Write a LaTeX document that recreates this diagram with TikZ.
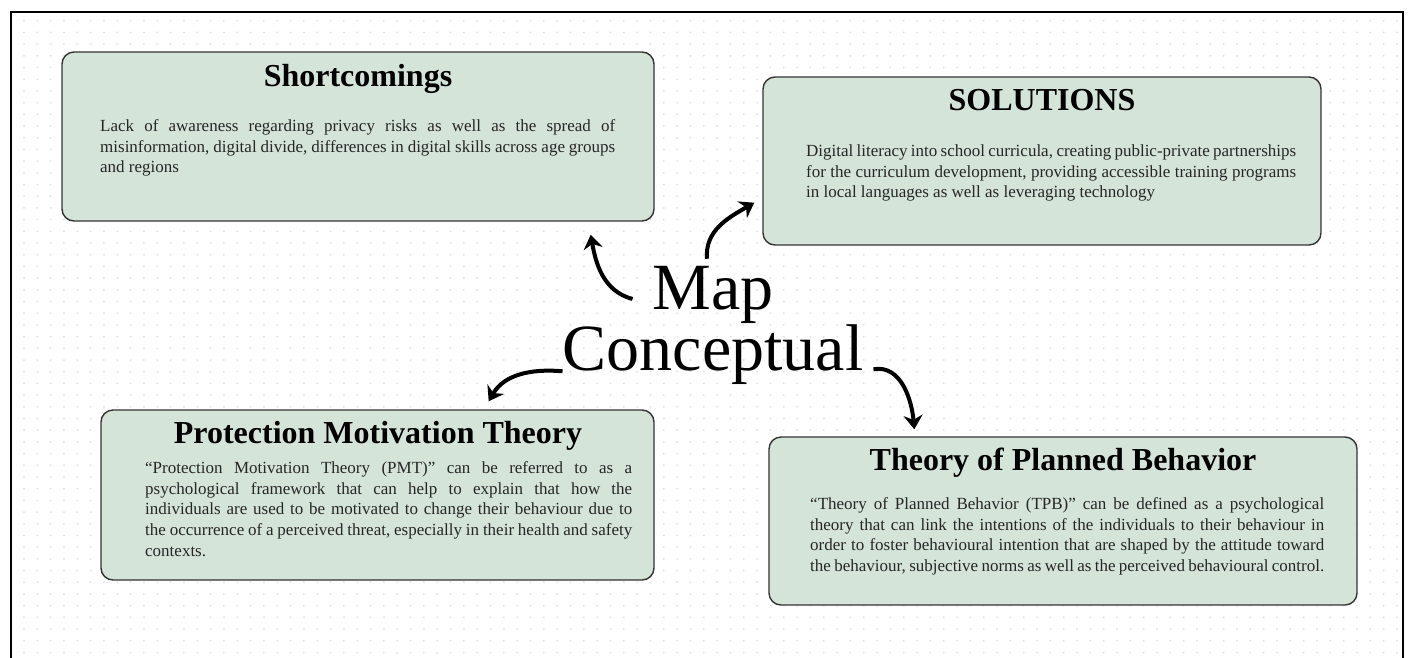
\documentclass[tikz,border=0pt]{standalone}
\usepackage{fontspec}
\setmainfont{Liberation Serif}
\usetikzlibrary{arrows.meta,positioning}
\definecolor{boxgreen}{RGB}{213,228,217}
\definecolor{dotgray}{RGB}{222,222,222}
\tolerance=9999
\hyphenpenalty=10000

\begin{document}
\begin{tikzpicture}[x=1pt, y=-1pt,
	box/.style={draw=black!80, line width=1.4pt, rounded corners=12pt, fill=boxgreen, inner sep=0pt},
	head/.style={font=\bfseries\fontsize{32}{36}\selectfont, inner sep=0pt, anchor=base},
	body/.style={font=\fontsize{17}{20.6}\selectfont, align=justify, inner sep=0pt, anchor=north west, text=black!85},
	arr/.style={-{Stealth[length=14pt, width=19pt]}, line width=4pt}]
	\useasboundingbox (0,0) rectangle (1410,657);
	
	% dotted paper
	\foreach \x in {24,37.33,...,1400}
		\foreach \y in {20.7,32.4,...,657}
			\fill[dotgray] (\x,\y) circle (1);
	\draw[line width=2pt] (11,680) -- (11,12) -- (1403,12) -- (1403,680);
	
	\node[box, minimum width=592pt, minimum height=169pt] (short) at (358,136.5) {};
	\node[box, minimum width=558pt, minimum height=168pt] (sol) at (1042,161) {};
	\node[box, minimum width=553pt, minimum height=170pt] (pmt) at (377.5,495) {};
	\node[box, minimum width=588pt, minimum height=168pt] (tpb) at (1063,521) {};
	
	\node[head] (shortT) at (358,86) {Shortcomings};
	\node[head] (solT) at (1042,110) {SOLUTIONS};
	\node[head] (pmtT) at (378,443) {Protection Motivation Theory};
	\node[head] (tpbT) at (1063,470) {Theory of Planned Behavior};
	
	\node[body, text width=515pt] (shortB) at (100,119.5) {Lack of awareness regarding privacy risks as well as the spread of\linebreak misinformation, digital divide, differences in digital skills across age groups\linebreak and regions};
	\node[body, text width=490pt] (solB) at (806,144.5) {Digital literacy into school curricula, creating public-private partnerships\linebreak for the curriculum development, providing accessible training programs\linebreak in local languages as well as leveraging technology};
	\node[body, text width=487pt] (pmtB) at (145,461.5) {“Protection Motivation Theory (PMT)” can be referred to as a\linebreak psychological framework that can help to explain that how the\linebreak individuals are used to be motivated to change their behaviour due to\linebreak the occurrence of a perceived threat, especially in their health and safety\linebreak contexts.};
	\node[body, text width=514pt] (tpbB) at (810,497.5) {“Theory of Planned Behavior (TPB)” can be defined as a psychological\linebreak theory that can link the intentions of the individuals to their behaviour in\linebreak order to foster behavioural intention that are shaped by the attitude toward\linebreak the behaviour, subjective norms as well as the perceived behavioural control.};
	
	\node[font=\fontsize{66}{53}\selectfont, align=center, inner sep=0pt] (map) at (713,325) {Map\\Conceptual};
	
	\draw[arr] ([xshift=70pt,yshift=26pt]map.west) to[out=165, in=-80] ([xshift=-64pt,yshift=-13pt]short.south east);
	\draw[arr] ([xshift=-6pt,yshift=7pt]map.north) to[out=95, in=210] ([xshift=-8pt,yshift=43pt]sol.south west);
	\draw[arr] ([xshift=0pt,yshift=13pt]map.south west) to[out=175, in=60] ([xshift=-166pt,yshift=8pt]pmt.north east);
	\draw[arr] ([xshift=10pt,yshift=15pt]map.south east) to[out=10, in=95] ([xshift=146pt,yshift=7pt]tpb.north west);
\end{tikzpicture}
\end{document}
